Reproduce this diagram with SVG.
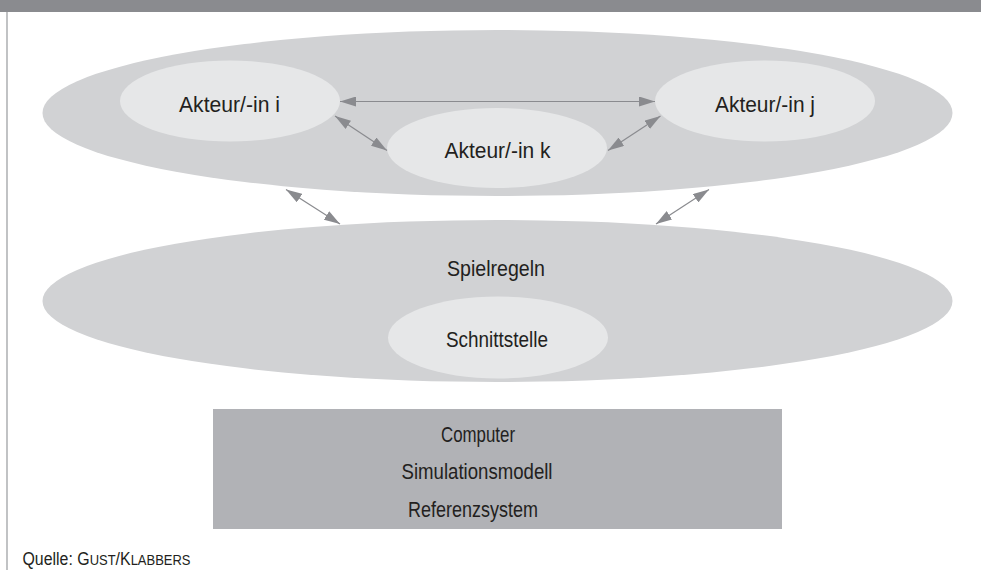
<svg xmlns="http://www.w3.org/2000/svg" width="981" height="570" viewBox="0 0 981 570">
<defs>
<style>
.big{fill:#d1d2d4}
.inner{fill:#e6e7e8}
.lbl{font-family:"Liberation Sans",Arial,sans-serif;font-size:22px;fill:#231f20;text-anchor:middle}
.con{stroke:#8a8b8f;stroke-width:1.2;fill:none;marker-start:url(#ah);marker-end:url(#ah)}
</style>
<marker id="ah" markerUnits="userSpaceOnUse" markerWidth="16" markerHeight="10" refX="16" refY="5" orient="auto-start-reverse">
<path d="M0,0 L16,5 L0,10 z" fill="#8a8b8f"/>
</marker>
</defs>
<rect x="0" y="0" width="981" height="570" fill="#ffffff"/>
<rect x="0" y="0" width="981" height="12" fill="#8a8b8f"/>
<line x1="7" y1="12" x2="7" y2="570" stroke="#a7a9ac" stroke-width="1.4"/>

<g id="akteure">
<ellipse class="big" cx="497.5" cy="113" rx="455" ry="83"/>
</g>
<g id="spielregeln">
<ellipse class="big" cx="497.5" cy="301" rx="455" ry="81"/>
<text class="lbl" x="496" y="276" textLength="98" lengthAdjust="spacingAndGlyphs">Spielregeln</text>
</g>
<g id="akteur-i">
<ellipse class="inner" cx="230" cy="101" rx="110" ry="40.5"/>
<text class="lbl" x="229.5" y="112" textLength="101" lengthAdjust="spacingAndGlyphs">Akteur/-in i</text>
</g>
<g id="akteur-j">
<ellipse class="inner" cx="765" cy="101" rx="110" ry="40.5"/>
<text class="lbl" x="765" y="112" textLength="100" lengthAdjust="spacingAndGlyphs">Akteur/-in j</text>
</g>
<g id="akteur-k">
<ellipse class="inner" cx="497" cy="148" rx="110" ry="40"/>
<text class="lbl" x="497.5" y="158" textLength="106" lengthAdjust="spacingAndGlyphs">Akteur/-in k</text>
</g>
<g id="schnittstelle">
<ellipse class="inner" cx="498" cy="337.5" rx="110" ry="41"/>
<text class="lbl" x="497" y="347" textLength="102" lengthAdjust="spacingAndGlyphs">Schnittstelle</text>
</g>
<g id="computer">
<rect x="213" y="409" width="569" height="120" fill="#b1b2b6"/>
<text class="lbl" x="478" y="442" textLength="74" lengthAdjust="spacingAndGlyphs">Computer</text>
<text class="lbl" x="477" y="479" textLength="151" lengthAdjust="spacingAndGlyphs">Simulationsmodell</text>
<text class="lbl" x="473" y="517" textLength="130" lengthAdjust="spacingAndGlyphs">Referenzsystem</text>
</g>
<g id="connectors">
<line class="con" x1="340" y1="101.5" x2="655" y2="101.5"/>
<line class="con" x1="335" y1="116" x2="387" y2="150.5"/>
<line class="con" x1="608" y1="150.5" x2="660.5" y2="116"/>
<line class="con" x1="286" y1="189.5" x2="340" y2="224"/>
<line class="con" x1="656" y1="224" x2="709" y2="189.5"/>
</g>
<g id="quelle" transform="translate(22.5,565) scale(0.837,1)">
<text x="0" y="0" font-family="'Liberation Sans',Arial,sans-serif" font-size="19" fill="#231f20">Quelle: G<tspan font-size="15.5">UST</tspan>/K<tspan font-size="15.5">LABBERS</tspan></text>
</g>
</svg>
